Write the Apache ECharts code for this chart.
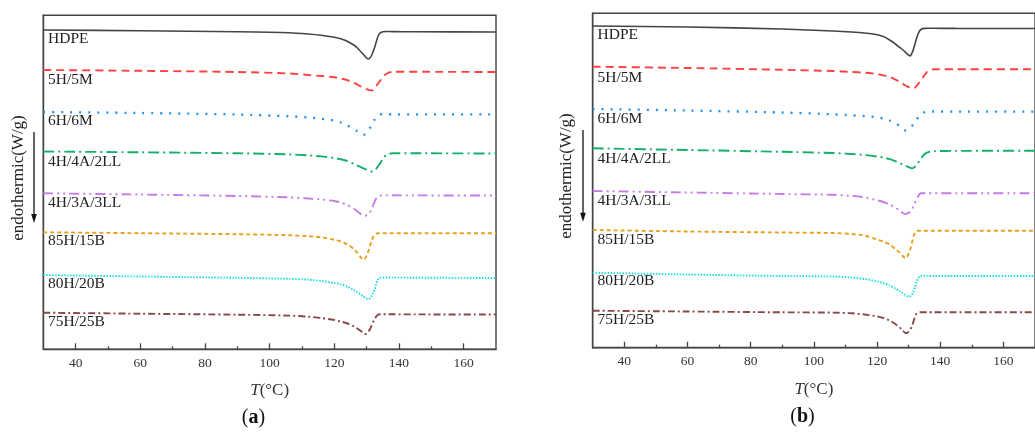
<!DOCTYPE html>
<html>
<head>
<meta charset="utf-8">
<script src="https://cdn.jsdelivr.net/npm/echarts@6/dist/echarts.min.js"></script>
<style>
  html, body { margin: 0; padding: 0; background: #fff; }
  #chart { width: 1035px; height: 432px; }
</style>
</head>
<body>
<div id="chart"></div>
<script>
// temperature grid shared by every curve (°C)
var temps = [30, 60, 90, 106, 112, 116, 120, 122, 124, 126, 127, 128, 129, 129.5, 130, 130.5, 131, 131.5, 132, 132.5, 133, 133.5, 134, 135, 136, 138, 145, 170];

var names = ['HDPE', '5H/5M', '6H/6M', '4H/4A/2LL', '4H/3A/3LL', '85H/15B', '80H/20B', '75H/25B'];
var colors = ['#444444', '#ff4040', '#1f8ff0', '#14b06a', '#c57de6', '#e6a11e', '#18e0e0', '#8a4848'];
var dashes = ['solid', [8, 5], [2, 7], [11, 4, 2, 4], [10, 4, 2, 4, 2, 4], [4, 3], [1.5, 1.5], [7, 3, 2, 3]];

// panel (a): heat flow, curves shifted vertically (W/g, offset)
var hdpeA = [3.193,3.185,3.175,3.166,3.153,3.140,3.120,3.105,3.081,3.043,3.018,2.983,2.948,2.930,2.913,2.903,2.913,2.938,2.976,3.023,3.078,3.128,3.158,3.175,3.178,3.177,3.175,3.173];
var h5m5A = [2.793,2.785,2.773,2.758,2.743,2.733,2.720,2.708,2.691,2.665,2.650,2.631,2.615,2.608,2.601,2.596,2.591,2.588,2.591,2.608,2.633,2.658,2.678,2.718,2.753,2.775,2.775,2.773];
var h6m6A = [2.373,2.363,2.348,2.330,2.318,2.306,2.288,2.268,2.238,2.203,2.183,2.160,2.143,2.153,2.173,2.193,2.211,2.238,2.270,2.298,2.323,2.338,2.348,2.351,2.351,2.350,2.350,2.350];
var a4ll2A = [1.978,1.970,1.960,1.949,1.939,1.929,1.913,1.900,1.883,1.856,1.840,1.825,1.810,1.803,1.796,1.789,1.783,1.778,1.780,1.790,1.808,1.830,1.853,1.903,1.941,1.960,1.960,1.958];
var a3ll3A = [1.560,1.548,1.533,1.520,1.508,1.498,1.483,1.468,1.443,1.408,1.383,1.358,1.335,1.335,1.341,1.350,1.368,1.398,1.438,1.478,1.510,1.528,1.537,1.540,1.540,1.540,1.539,1.538];
var b15A = [1.170,1.161,1.151,1.141,1.131,1.120,1.095,1.078,1.050,1.003,0.968,0.928,0.895,0.908,0.938,0.978,1.028,1.078,1.123,1.148,1.157,1.160,1.160,1.160,1.160,1.160,1.160,1.160];
var b20A = [0.743,0.728,0.715,0.705,0.696,0.683,0.663,0.650,0.625,0.593,0.573,0.550,0.528,0.516,0.507,0.503,0.510,0.530,0.560,0.603,0.658,0.695,0.713,0.718,0.718,0.717,0.716,0.713];
var b25A = [0.366,0.356,0.346,0.337,0.326,0.313,0.293,0.278,0.258,0.230,0.210,0.188,0.165,0.153,0.158,0.175,0.200,0.233,0.273,0.306,0.330,0.345,0.350,0.351,0.351,0.350,0.349,0.348];

// panel (b)
var hdpeB = [3.217,3.207,3.187,3.167,3.157,3.147,3.130,3.112,3.077,3.032,3.007,2.982,2.954,2.939,2.925,2.917,2.942,2.982,3.037,3.092,3.137,3.169,3.185,3.193,3.194,3.194,3.193,3.192];
var h5m5B = [2.810,2.797,2.779,2.767,2.757,2.750,2.737,2.724,2.707,2.679,2.662,2.642,2.622,2.614,2.607,2.601,2.596,2.594,2.599,2.615,2.637,2.655,2.677,2.724,2.765,2.784,2.784,2.784];
var h6m6B = [2.387,2.372,2.352,2.334,2.324,2.317,2.304,2.292,2.272,2.242,2.222,2.194,2.172,2.177,2.189,2.204,2.217,2.232,2.252,2.277,2.302,2.322,2.337,2.354,2.360,2.362,2.361,2.360];
var a4ll2B = [1.994,1.977,1.959,1.947,1.937,1.927,1.912,1.902,1.885,1.862,1.849,1.834,1.819,1.812,1.805,1.799,1.794,1.797,1.809,1.827,1.847,1.872,1.897,1.934,1.954,1.965,1.968,1.970];
var a3ll3B = [1.567,1.552,1.537,1.529,1.519,1.504,1.474,1.457,1.432,1.397,1.374,1.350,1.337,1.341,1.349,1.359,1.379,1.412,1.447,1.484,1.514,1.537,1.544,1.545,1.545,1.544,1.544,1.544];
var b15B = [1.177,1.162,1.152,1.147,1.137,1.122,1.082,1.062,1.032,0.982,0.954,0.922,0.895,0.907,0.942,0.982,1.042,1.107,1.152,1.167,1.170,1.170,1.170,1.170,1.170,1.170,1.170,1.170];
var b20B = [0.750,0.732,0.717,0.712,0.702,0.687,0.664,0.647,0.622,0.587,0.567,0.547,0.527,0.517,0.510,0.515,0.530,0.554,0.602,0.657,0.692,0.712,0.719,0.719,0.718,0.717,0.717,0.717];
var b25B = [0.370,0.362,0.354,0.351,0.344,0.332,0.314,0.297,0.272,0.232,0.207,0.177,0.147,0.147,0.162,0.184,0.207,0.257,0.312,0.340,0.350,0.354,0.354,0.355,0.355,0.354,0.354,0.354];

var majorTicks = [40, 60, 80, 100, 120, 140, 160];
var minorTicks = [50, 70, 90, 110, 130, 150];

var panelA = [hdpeA, h5m5A, h6m6A, a4ll2A, a3ll3A, b15A, b20A, b25A];
var panelB = [hdpeB, h5m5B, h6m6B, a4ll2B, a3ll3B, b15B, b20B, b25B];

var serif = "'Liberation Serif', 'DejaVu Serif', serif";

function pairs(vals){
	var out = [];
	for(var i=0;i<temps.length;i++){
		out.push([temps[i], vals[i]]);
	}
	return out;
}

function mainX(gridIndex){
	return {
		type: 'value', gridIndex: gridIndex, min: 30, max: 170, position: 'bottom',
		axisLine: {show: true, lineStyle: {color: '#444', width: 1.4}},
		axisTick: {show: true, inside: true, length: 6, customValues: majorTicks, lineStyle: {color: '#444', width: 1.3}},
		axisLabel: {show: true, customValues: majorTicks, margin: 7, color: '#333', fontFamily: serif, fontSize: 13.5},
		splitLine: {show: false},
		name: '{i|T}(°C)', nameLocation: 'middle', nameGap: 33,
		nameTextStyle: {color: '#333', fontFamily: serif, fontSize: 17, rich: {i: {fontStyle: 'italic', fontFamily: serif, fontSize: 17, color: '#333'}}}
	};
}

function minorX(gridIndex){
	return {
		type: 'value', gridIndex: gridIndex, min: 30, max: 170, position: 'bottom',
		axisLine: {show: false},
		axisTick: {show: true, inside: true, length: 3, customValues: minorTicks, lineStyle: {color: '#444', width: 1.3}},
		axisLabel: {show: false},
		splitLine: {show: false}
	};
}

function yAx(gridIndex, max){
	return {
		type: 'value', gridIndex: gridIndex, min: 0, max: max,
		axisLine: {show: true, lineStyle: {color: '#444', width: 1.4}},
		axisTick: {show: false}, axisLabel: {show: false}, splitLine: {show: false}
	};
}

var series = [];
for(var i=0;i<names.length;i++){
	var base = {
		type: 'line', showSymbol: false, smooth: 0.25, z: 3, silent: true,
		lineStyle: {color: colors[i], width: i==0 ? 1.6 : (i==2 ? 2.3 : 1.9), type: dashes[i]}
	};
	series.push(Object.assign({name: names[i], xAxisIndex: 0, yAxisIndex: 0, data: pairs(panelA[i])}, base));
	series.push(Object.assign({name: names[i] + ' ', xAxisIndex: 2, yAxisIndex: 1, data: pairs(panelB[i])}, base));
}

// curve labels, left of each trace
var labelYA = [38.5, 80, 120.5, 161.5, 202.5, 241, 283.5, 321.5];
var labelYB = [35, 77.5, 118.5, 158.5, 200.5, 239.5, 281, 320];
var graphics = [];
for(var k=0;k<names.length;k++){
	graphics.push({type: 'text', x: 48, y: labelYA[k], style: {text: names[k], font: '15.5px ' + serif, fill: '#222', verticalAlign: 'middle'}});
	graphics.push({type: 'text', x: 597.5, y: labelYB[k], style: {text: names[k], font: '15.5px ' + serif, fill: '#222', verticalAlign: 'middle'}});
}

function yLabel(cx, cy){
	return {type: 'text', x: cx, y: cy, rotation: Math.PI/2,
		style: {text: 'endothermic(W/g)', font: '17px ' + serif, fill: '#222', align: 'center', verticalAlign: 'middle'}};
}
function arrow(x, y1, y2){
	return {type: 'group', children: [
		{type: 'line', shape: {x1: x, y1: y1, x2: x, y2: y2 - 6}, style: {stroke: '#111', lineWidth: 1.3}},
		{type: 'polygon', shape: {points: [[x - 2.8, y2 - 9], [x + 2.8, y2 - 9], [x, y2]]}, style: {fill: '#111'}}
	]};
}
function panelTag(cx, cy, letter){
	return {type: 'text', x: cx, y: cy,
		style: {text: '({b|' + letter + '})', font: '20px ' + serif, fill: '#111', align: 'center', verticalAlign: 'middle',
			rich: {b: {fontWeight: 'bold', fontSize: 20, fontFamily: serif, fill: '#111'}}}};
}
graphics.push(yLabel(18.5, 178), arrow(34, 132, 223), yLabel(566.5, 176), arrow(583, 130, 221.7));
graphics.push(panelTag(253.5, 418, 'a'), panelTag(802.5, 416.5, 'b'));

var option = {
	animation: false,
	backgroundColor: '#fff',
	grid: [
		{left: 43.3, top: 15.3, width: 452.7, height: 334, show: true, borderColor: '#444', borderWidth: 1.4, backgroundColor: 'transparent'},
		{left: 592.7, top: 13.3, width: 455.4, height: 334.4, show: true, borderColor: '#444', borderWidth: 1.4, backgroundColor: 'transparent'}
	],
	xAxis: [mainX(0), minorX(0), mainX(1), minorX(1)],
	yAxis: [yAx(0, 3.34), yAx(1, 3.344)],
	series: series,
	graphic: graphics
};

var myChart = echarts.init(document.getElementById('chart'));
myChart.setOption(option);
</script>
</body>
</html>
